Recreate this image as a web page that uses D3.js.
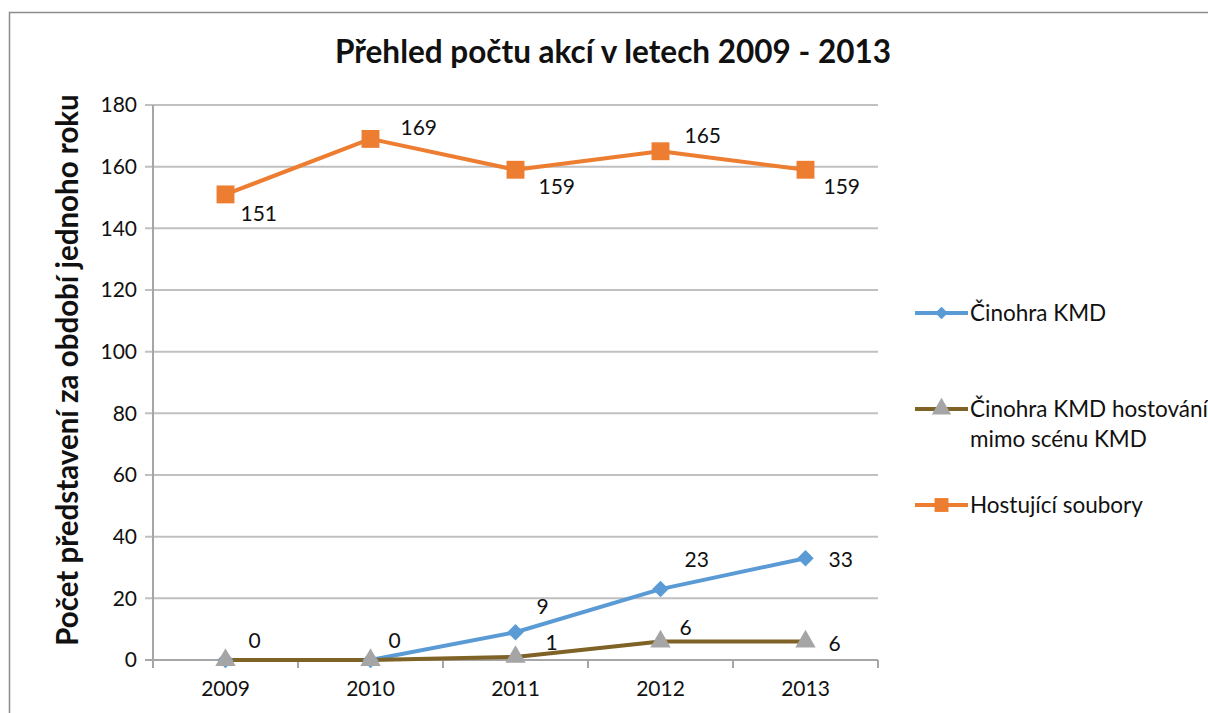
<!DOCTYPE html>
<html>
<head>
<meta charset="utf-8">
<script src="https://cdn.jsdelivr.net/npm/d3@7"></script>
<style>
  body { margin: 0; background: #fff; overflow: hidden; }
  svg { display: block; }
  text { font-family: Lato, "Open Sans", sans-serif; fill: #111; }
</style>
</head>
<body>
<div id="chart"></div>
<script>
// Data
const years = ["2009", "2010", "2011", "2012", "2013"];
const seriesNames = ["Činohra KMD", "Činohra KMD hostování mimo scénu KMD", "Hostující soubory"];
const cinohra = [0, 0, 9, 23, 33];
const hostovani = [0, 0, 1, 6, 6];
const hostujici = [151, 169, 159, 165, 159];
const yTicks = [0, 20, 40, 60, 80, 100, 120, 140, 160, 180];

const W = 1208, H = 713;
const margin = { top: 105, left: 153 };
const width = 878 - margin.left;
const height = 660 - margin.top;

const svg = d3.select("#chart").append("svg")
    .attr("width", W)
    .attr("height", H);

// chart frame (only top and left edges are visible)
svg.append("path")
    .attr("d", `M9.5,${H}V12.5H${W}`)
    .attr("fill", "none")
    .attr("stroke", "#8c8c8c")
    .attr("stroke-width", 1.5);

const g = svg.append("g").attr("transform", `translate(${margin.left},${margin.top})`);

// Scales
const x = d3.scaleBand().domain(years).range([0, width]);
const y = d3.scaleLinear().domain([0, 180]).range([height, 0]);
const cx = d => x(d) + x.bandwidth() / 2;

// Grid
g.selectAll(".grid").data(yTicks).enter().append("line")
    .attr("x1", -8).attr("x2", width)
    .attr("y1", d => y(d)).attr("y2", d => y(d))
    .attr("stroke", d => d === 0 ? "#a6a6a6" : "#c0c0c0")
    .attr("stroke-width", 2);

// Y axis
const yAxis = g.append("g")
    .call(d3.axisLeft(y).tickValues(yTicks).tickSize(0).tickPadding(16));
yAxis.select(".domain").remove();
yAxis.selectAll("text").style("font-size", "21px").style("font-family", "Lato, sans-serif").attr("fill", "#111");
g.append("line")
    .attr("x1", 0).attr("x2", 0).attr("y1", 0).attr("y2", height + 8)
    .attr("stroke", "#a6a6a6").attr("stroke-width", 2);

// X axis
const xAxis = g.append("g")
    .attr("transform", `translate(0,${height})`)
    .call(d3.axisBottom(x).tickSize(0).tickPadding(21));
xAxis.select(".domain").remove();
xAxis.selectAll("text").style("font-size", "21px").style("font-family", "Lato, sans-serif").attr("fill", "#111");
g.selectAll(".xtick").data(d3.range(years.length + 1)).enter().append("line")
    .attr("x1", i => i * x.bandwidth()).attr("x2", i => i * x.bandwidth())
    .attr("y1", height).attr("y2", height + 8)
    .attr("stroke", "#a6a6a6").attr("stroke-width", 2);

// Title
svg.append("text")
    .attr("x", 613).attr("y", 63)
    .attr("text-anchor", "middle")
    .style("font-size", "31.5px").style("font-weight", "bold")
    .text("Přehled počtu akcí v letech 2009 - 2013");

// Y axis title
svg.append("text")
    .attr("transform", "translate(78,370) rotate(-90)")
    .attr("text-anchor", "middle")
    .style("font-size", "29.5px").style("font-weight", "bold")
    .text("Počet představení za období jednoho roku");

const series = [
    { name: seriesNames[0], values: cinohra, color: "#5b9bd5", marker: "diamond", mColor: "#5b9bd5", mSize: 135 },
    { name: seriesNames[1], values: hostovani, color: "#7f6226", marker: "triangle", mColor: "#a5a5a5", mSize: 180 },
    { name: seriesNames[2], values: hostujici, color: "#ed7d31", marker: "square", mColor: "#ed7d31", mSize: 320 }
];

// data label placement per series (dx, dy from the point; null = no label)
const labelOffsets = [
    [[23, -12], [18, -12], [21, -18], [24, -22], [23, 9]],
    [null, null, [30, -7], [19, -7], [23, 9]],
    [[15, 27], [30, -4], [23, 24], [24, -8], [18, 24]]
];

function markerPath(s, scale) {
    if (s.marker === "triangle") return d3.symbol().type(d3.symbolTriangle).size(s.mSize * scale)();
    return d3.symbol().type(d3.symbolSquare).size(s.mSize * scale)();
}
function markerRot(s) { return s.marker === "diamond" ? " rotate(45)" : ""; }

const line = d3.line().x((d, i) => cx(years[i])).y(d => y(d));

series.forEach(s => {
    g.append("path")
        .datum(s.values)
        .attr("fill", "none")
        .attr("stroke", s.color)
        .attr("stroke-width", 4)
        .attr("stroke-linejoin", "round")
        .attr("d", line);
});

series.forEach((s, si) => {
    g.selectAll(".m" + si).data(s.values).enter().append("path")
        .attr("transform", (d, i) => `translate(${cx(years[i])},${y(d)})` + markerRot(s))
        .attr("d", markerPath(s, 1))
        .attr("fill", s.mColor);
});

// Data labels
series.forEach((s, si) => {
    const labels = s.values
        .map((v, i) => ({ v, i, off: labelOffsets[si][i] }))
        .filter(d => d.off !== null);
    g.selectAll(".l" + si).data(labels).enter().append("text")
        .attr("x", d => cx(years[d.i]) + d.off[0])
        .attr("y", d => y(d.v) + d.off[1])
        .style("font-size", "21px")
        .text(d => d.v);
});

// Legend
const legend = svg.append("g").attr("transform", "translate(915,0)");
const legendY = [313, 409, 505];
series.forEach((s, i) => {
    const lg = legend.append("g").attr("transform", `translate(0,${legendY[i]})`);
    lg.append("line").attr("x1", 0).attr("x2", 53).attr("y1", 0).attr("y2", 0)
        .attr("stroke", s.color).attr("stroke-width", 4);
    lg.append("path")
        .attr("transform", "translate(26.5,0)" + markerRot(s))
        .attr("d", markerPath(s, s.marker === "triangle" ? 0.9 : 0.6))
        .attr("fill", s.mColor);
    const t = lg.append("text").attr("x", 55).attr("y", 8).style("font-size", "22.5px");
    if (i === 1) {
        t.append("tspan").attr("x", 55).text("Činohra KMD hostování");
        t.append("tspan").attr("x", 55).attr("dy", 30).text("mimo scénu KMD");
    } else {
        t.text(s.name);
    }
});
</script>
</body>
</html>
